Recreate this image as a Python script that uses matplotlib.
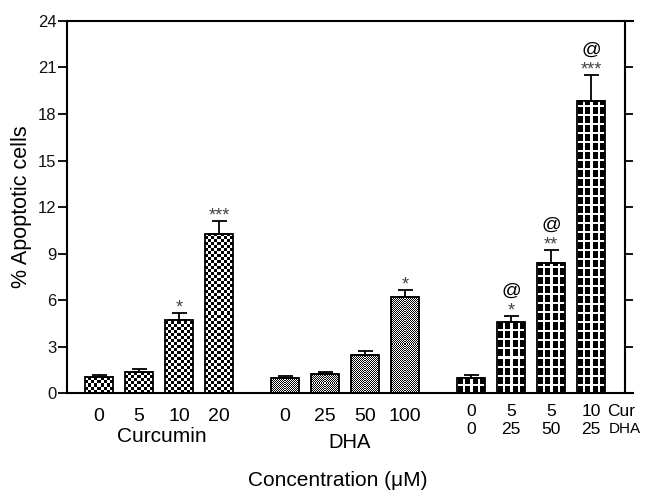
import numpy as np
import matplotlib
matplotlib.use("Agg")
import matplotlib.pyplot as plt
from matplotlib.transforms import blended_transform_factory

plt.rcParams['font.family'] = ['Liberation Sans', 'DejaVu Sans']

# ---- data ----
cur_doses = ['0', '5', '10', '20']
cur_mean = [1.05, 1.4, 4.75, 10.25]
cur_top = [1.2, 1.55, 5.2, 11.1]          # mean + SEM
cur_sig = ['', '', '*', '***']

dha_doses = ['0', '25', '50', '100']
dha_mean = [1.0, 1.25, 2.5, 6.2]
dha_top = [1.15, 1.4, 2.75, 6.65]
dha_sig = ['', '', '', '*']

mix_cur = ['0', '5', '5', '10']
mix_dha = ['0', '25', '50', '25']
mix_mean = [1.0, 4.6, 8.4, 18.85]
mix_top = [1.2, 5.0, 9.25, 20.5]
mix_sig = ['', '*', '**', '***']
mix_at = ['', '@', '@', '@']

yticks = list(range(0, 25, 3))

# ---- layout ----
W = 0.68
group_off = [0.0, 4.65, 9.3]


def checker(nr, nc, cell):
    i, j = np.indices((nr, nc))
    return ((i // cell + j // cell) % 2).astype(float)


def grid(nr, nc):
    i, j = np.indices((nr, nc))
    white = ((j + 1) % 7 < 2) | (i % 9 >= 7)
    return np.where(white, 0.0, 1.0)


fig = plt.figure(figsize=(6.55, 4.91), dpi=100)
ax = fig.add_axes([0.1018, 0.1986, 0.8646, 0.7592])
ax.set_xlim(-0.8075, 13.35)
ax.set_ylim(0, 24)
ax.set_autoscale_on(False)


def draw_group(xs, mean, top, pattern):
    for x, m in zip(xs, mean):
        p0 = ax.transData.transform((x - W / 2, 0))
        p1 = ax.transData.transform((x + W / 2, m))
        nc = max(1, int(round(p1[0] - p0[0])))
        nr = max(1, int(round(p1[1] - p0[1])))
        arr = pattern(nr, nc)
        ax.imshow(arr, extent=(x - W / 2, x + W / 2, 0, m), cmap='gray_r',
                  vmin=0, vmax=1, interpolation='nearest', aspect='auto',
                  origin='lower', zorder=2)
    ax.bar(xs, mean, width=W, fill=False, edgecolor='black', lw=1.3, zorder=3)
    up = np.array(top) - np.array(mean)
    ax.errorbar(xs, mean, yerr=[np.zeros(len(xs)), up], fmt='none',
                ecolor='black', elinewidth=1.3, capsize=5.4, capthick=1.3,
                zorder=3)


x_cur = group_off[0] + np.arange(4)
x_dha = group_off[1] + np.arange(4)
x_mix = group_off[2] + np.arange(4)

draw_group(x_cur, cur_mean, cur_top, lambda r, c: checker(r, c, 3))
draw_group(x_dha, dha_mean, dha_top, lambda r, c: checker(r, c, 1))
draw_group(x_mix, mix_mean, mix_top, grid)

# significance marks
for xs, top, sig in [(x_cur, cur_top, cur_sig), (x_dha, dha_top, dha_sig),
                     (x_mix, mix_top, mix_sig)]:
    for x, t, s in zip(xs, top, sig):
        if s:
            ax.annotate(s, (x, t), xytext=(0, 0.5), textcoords='offset points',
                        ha='center', va='baseline', fontsize=13, color='#444444')
for x, t, s in zip(x_mix, mix_top, mix_at):
    if s:
        ax.annotate(s, (x, t), xytext=(0, 17.5), textcoords='offset points',
                    ha='center', va='center', fontsize=14, color='black')

# axes styling
ax.set_xticks([])
ax.set_yticks(yticks)
ax.tick_params(axis='y', direction='out', length=6.5, width=1.3,
               labelsize=12, pad=1, labelcolor='#111111')
ax.spines['right'].set_visible(False)
for side in ['left', 'top', 'bottom']:
    ax.spines[side].set_linewidth(1.5)

sec = ax.secondary_yaxis(0.986)
sec.set_yticks(yticks)
sec.tick_params(direction='out', length=6, width=1.3, labelright=False)
sec.spines['right'].set_linewidth(1.5)

ax.set_ylabel('% Apoptotic cells', fontsize=15.5)
ax.yaxis.set_label_coords(-0.062, 0.5)

# x labels
tr = blended_transform_factory(ax.transData, ax.transAxes)
for x, s in zip(x_cur, cur_doses):
    ax.text(x, -0.0604, s, transform=tr, ha='center', va='center', fontsize=14)
for x, s in zip(x_dha, dha_doses):
    ax.text(x, -0.0604, s, transform=tr, ha='center', va='center', fontsize=14)
for x, s in zip(x_mix, mix_cur):
    ax.text(x, -0.047, s, transform=tr, ha='center', va='center', fontsize=12.5)
for x, s in zip(x_mix, mix_dha):
    ax.text(x, -0.0955, s, transform=tr, ha='center', va='center', fontsize=12.5)
ax.text(x_mix[-1] + 0.4, -0.047, 'Cur', transform=tr, ha='left',
        va='center', fontsize=12.5)
ax.text(x_mix[-1] + 0.45, -0.0955, 'DHA', transform=tr, ha='left',
        va='center', fontsize=11)
ax.text(x_cur.mean() + 0.07, -0.1167, 'Curcumin', transform=tr, ha='center',
        va='center', fontsize=15)
ax.text(x_dha.mean() + 0.12, -0.1328, 'DHA', transform=tr, ha='center',
        va='center', fontsize=14.5)
ax.text(0.478, -0.2347, 'Concentration (\u03bcM)', transform=ax.transAxes,
        ha='center', va='center', fontsize=15)

fig.savefig('out.png', dpi=100)
